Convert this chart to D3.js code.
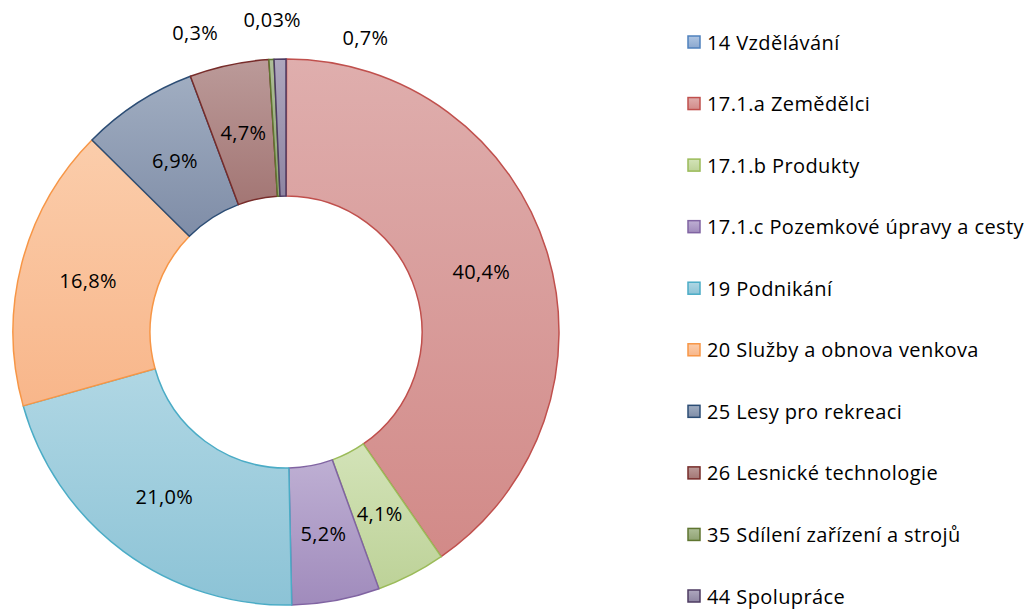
<!DOCTYPE html>
<html>
<head>
<meta charset="utf-8">
<script src="https://cdn.jsdelivr.net/npm/d3@7"></script>
<style>
  html, body { margin: 0; padding: 0; background: #fff; }
  svg { display: block; font-family: "Open Sans", sans-serif; }
</style>
</head>
<body>
<svg id="chart" width="1034" height="610"></svg>
<script>
// categories and shares (%)
const categories = [
    "14 Vzdělávání",
    "17.1.a Zemědělci",
    "17.1.b Produkty",
    "17.1.c Pozemkové úpravy a cesty",
    "19 Podnikání",
    "20 Služby a obnova venkova",
    "25 Lesy pro rekreaci",
    "26 Lesnické technologie",
    "35 Sdílení zařízení a strojů",
    "44 Spolupráce"
];
const shares = [0.03, 40.4, 4.1, 5.2, 21.0, 16.8, 6.9, 4.7, 0.3, 0.7];
const shareLabels = ["0,03%", "40,4%", "4,1%", "5,2%", "21,0%", "16,8%", "6,9%", "4,7%", "0,3%", "0,7%"];

// styles: border colour, gradient top / bottom
const strokeColors = ["#4F81BD", "#C0504D", "#9BBB59", "#8064A2", "#4BACC6", "#F79646", "#2C4D75", "#772C2A", "#5F7530", "#4D3B62"];
const fillTop = ["#AFC5E2", "#DFAEAD", "#D3E3B8", "#BEAFD3", "#B0D7E4", "#FBCDAB", "#A0ADC1", "#BB9A99", "#AEBE98", "#AEA7BE"];
const fillBottom = ["#8BA8CF", "#D28A88", "#BDD298", "#A08BBC", "#8CC3D6", "#F8B68A", "#7F8DA7", "#A37674", "#8FA272", "#8E85A2"];

// the tiny slices had their labels dragged outside the ring
const labelNudge = [[-14, -108], [0, 0], [0, 0], [0, 0], [0, 0], [0, 0], [0, 0], [0, 0], [-80, -95], [84, -90]];

const svg = d3.select("#chart");
const cx = 286, cy = 332;
const outerR = 273, innerR = 136;

const data = categories.map((name, i) => ({ name, value: shares[i], label: shareLabels[i], i }));

const defs = svg.append("defs");
data.forEach(d => {
    const g = defs.append("linearGradient")
        .attr("id", "grad" + d.i)
        .attr("x1", 0).attr("y1", 0).attr("x2", 0).attr("y2", 1);
    g.append("stop").attr("offset", "0%").attr("stop-color", fillTop[d.i]);
    g.append("stop").attr("offset", "100%").attr("stop-color", fillBottom[d.i]);
});

const pie = d3.pie().value(d => d.value).sort(null);
const arc = d3.arc().innerRadius(innerR).outerRadius(outerR);
const arcs = pie(data);

const ring = svg.append("g").attr("transform", `translate(${cx},${cy})`);

ring.selectAll("path.slice")
    .data(arcs)
    .enter()
    .append("path")
    .attr("class", "slice")
    .attr("d", arc)
    .attr("fill", d => `url(#grad${d.data.i})`)
    .attr("stroke", d => strokeColors[d.data.i])
    .attr("stroke-width", 1.5)
    .attr("stroke-linejoin", "round");

ring.selectAll("text.value")
    .data(arcs)
    .enter()
    .append("text")
    .attr("class", "value")
    .attr("x", d => arc.centroid(d)[0] + labelNudge[d.data.i][0])
    .attr("y", d => arc.centroid(d)[1] + labelNudge[d.data.i][1])
    .attr("text-anchor", "middle")
    .attr("dominant-baseline", "central")
    .attr("font-size", "20px")
    .attr("letter-spacing", "0.3px")
    .attr("fill", "#000")
    .text(d => d.data.label);

// legend
const legendY = d3.scalePoint().domain(categories).range([42, 596]);
const legend = svg.append("g").attr("class", "legend");

const item = legend.selectAll("g.item")
    .data(data)
    .enter()
    .append("g")
    .attr("class", "item")
    .attr("transform", d => `translate(688,${legendY(d.name)})`);

item.append("rect")
    .attr("x", 0)
    .attr("y", -6)
    .attr("width", 12)
    .attr("height", 12)
    .attr("fill", d => `url(#grad${d.i})`)
    .attr("stroke", d => strokeColors[d.i])
    .attr("stroke-width", 1.5);

item.append("text")
    .attr("x", 19)
    .attr("y", 0)
    .attr("dominant-baseline", "central")
    .attr("font-size", "20px")
    .attr("letter-spacing", "0.4px")
    .attr("fill", "#000")
    .text(d => d.name);
</script>
</body>
</html>
